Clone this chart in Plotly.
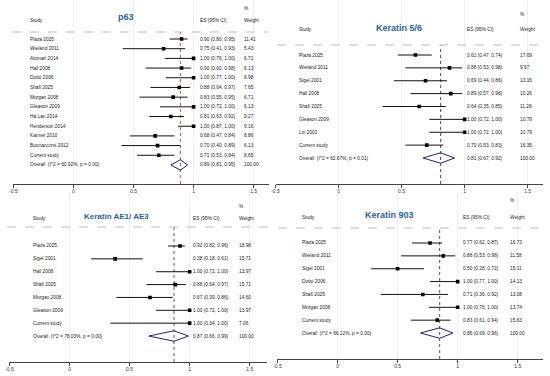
import plotly.graph_objects as go

W, H = 550, 376
FONT = "Liberation Sans, Arial, sans-serif"

# ---------------- data ----------------
p63_studies = ["Plaza 2025", "Wieland 2011", "Alomari 2014", "Hall 2008", "Dotto 2006",
               "Shafi 2025", "Morgan 2008", "Gleason 2009", "Ha Lan 2014", "Henderson 2014",
               "Kanner 2010", "Buonaccorsi 2012", "Current study"]
p63_es = [0.90, 0.75, 1.00, 0.90, 1.00, 0.88, 0.83, 1.00, 0.81, 1.00, 0.68, 0.70, 0.71]
p63_lo = [0.80, 0.41, 0.76, 0.60, 0.77, 0.64, 0.55, 0.72, 0.63, 0.87, 0.47, 0.40, 0.53]
p63_hi = [0.95, 0.93, 1.00, 0.98, 1.00, 0.97, 0.95, 1.00, 0.92, 1.00, 0.84, 0.89, 0.84]
p63_w = [11.41, 5.43, 6.71, 6.13, 6.98, 7.65, 6.71, 6.13, 9.27, 9.16, 8.86, 6.13, 8.65]
p63_overall = [0.89, 0.81, 0.95]
p63_i2, p63_p = "60.92%", "0.00"

k56_studies = ["Plaza 2025", "Wieland 2011", "Sigel 2001", "Hall 2008", "Shafi 2025",
               "Gleason 2009", "Lin 2002", "Current study"]
k56_es = [0.61, 0.88, 0.69, 0.89, 0.64, 1.00, 1.00, 0.70]
k56_lo = [0.47, 0.53, 0.44, 0.57, 0.35, 0.72, 0.72, 0.53]
k56_hi = [0.74, 0.98, 0.86, 0.98, 0.85, 1.00, 1.00, 0.83]
k56_w = [17.69, 9.67, 13.16, 10.26, 11.28, 10.79, 10.79, 16.35]
k56_overall = [0.81, 0.67, 0.92]
k56_i2, k56_p = "62.67%", "0.01"

ae_studies = ["Plaza 2025", "Sigel 2001", "Hall 2008", "Shafi 2025", "Morgan 2008",
              "Gleason 2009", "Current study"]
ae_es = [0.92, 0.38, 1.00, 0.88, 0.67, 1.00, 1.00]
ae_lo = [0.82, 0.18, 0.72, 0.64, 0.39, 0.72, 0.34]
ae_hi = [0.96, 0.61, 1.00, 0.97, 0.86, 1.00, 1.00]
ae_w = [18.98, 15.71, 13.97, 15.71, 14.60, 13.97, 7.06]
ae_overall = [0.87, 0.66, 0.99]
ae_i2, ae_p = "78.03%", "0.00"

k903_studies = ["Plaza 2025", "Wieland 2011", "Sigel 2001", "Dotto 2006", "Shafi 2025",
                "Morgan 2008", "Current study"]
k903_es = [0.77, 0.88, 0.50, 1.00, 0.71, 1.00, 0.83]
k903_lo = [0.62, 0.53, 0.28, 0.77, 0.36, 0.76, 0.61]
k903_hi = [0.87, 0.98, 0.72, 1.00, 0.92, 1.00, 0.94]
k903_w = [16.73, 11.58, 15.11, 14.13, 13.08, 13.74, 15.63]
k903_overall = [0.85, 0.69, 0.96]
k903_i2, k903_p = "66.12%", "0.00"

tick_vals = [-0.5, 0, 0.5, 1, 1.5]
tick_text = ["-0.5", "0", "0.5", "1", "1.5"]

# ---------------- layout geometry (pixels) ----------------
panels = [
    dict(title="p63", studies=p63_studies, es=p63_es, lo=p63_lo, hi=p63_hi, w=p63_w,
         ov=p63_overall, i2=p63_i2, p=p63_p,
         g=dict(xpx0=9.5, scale=121, right=267, top=0, axis=184, row1=39, sp=9.69,
                dash=32, dl=8, dr=266, pct=9, hdr=20, ty=17, tx=123, tsize=9,
                nx=24, ex=195, wx=240, vcol="#d04848")),
    dict(title="Keratin 5/6", studies=k56_studies, es=k56_es, lo=k56_lo, hi=k56_hi, w=k56_w,
         ov=k56_overall, i2=k56_i2, p=k56_p,
         g=dict(xpx0=273.5, scale=127, right=543, top=0, axis=184, row1=55, sp=12.875,
                dash=45, dl=275, dr=546, pct=15, hdr=29, ty=28, tx=398, tsize=9,
                nx=295, ex=464, wx=518, vcol="#444444")),
    dict(title="Keratin AE1/ AE3", studies=ae_studies, es=ae_es, lo=ae_lo, hi=ae_hi, w=ae_w,
         ov=ae_overall, i2=ae_i2, p=ae_p,
         g=dict(xpx0=5.5, scale=121, right=265, top=192, axis=362, row1=246, sp=12.86,
                dash=227, dl=3, dr=266, pct=207, hdr=218, ty=216, tx=113, tsize=8,
                nx=27, ex=188, wx=235, vcol="#555555")),
    dict(title="Keratin 903", studies=k903_studies, es=k903_es, lo=k903_lo, hi=k903_hi, w=k903_w,
         ov=k903_overall, i2=k903_i2, p=k903_p,
         g=dict(xpx0=275.5, scale=121, right=543, top=192, axis=359, row1=243, sp=12.86,
                dash=228, dl=276, dr=545, pct=200, hdr=217, ty=215, tx=388, tsize=9,
                nx=298, ex=460, wx=508, vcol="#555555")),
]

fig = go.Figure()
annotations = []
shapes = []
layout_axes = {}


def py(px):
    return 1 - px / H


def px_(p):
    return p / W


for i, pn in enumerate(panels):
    g = pn["g"]
    sfx = "" if i == 0 else str(i + 1)
    xa, ya = "x" + sfx, "y" + sfx
    xmax = -0.5 + (g["right"] - g["xpx0"]) / g["scale"]
    ybot = -(1 + (g["axis"] - g["row1"]) / g["sp"])
    ytop = -(1 + (g["top"] - g["row1"]) / g["sp"])

    layout_axes["xaxis" + sfx] = dict(
        domain=[px_(g["xpx0"]), px_(g["right"])], range=[-0.5, xmax], anchor=ya,
        showline=True, linecolor="#444444", linewidth=1, ticks="outside", ticklen=3,
        tickcolor="#444444", tickvals=tick_vals, ticktext=tick_text,
        tickfont=dict(size=5, color="#333333", family=FONT), ticklabelstandoff=-1,
        showgrid=True, gridcolor="#f0f0f0", gridwidth=1, zeroline=False, fixedrange=True)
    layout_axes["yaxis" + sfx] = dict(
        domain=[py(g["axis"]), py(g["top"])], range=[ybot, ytop], anchor=xa,
        visible=False, fixedrange=True)

    n = len(pn["studies"])
    # CI lines
    lx, ly = [], []
    for k in range(n):
        lx += [pn["lo"][k], pn["hi"][k], None]
        ly += [-(k + 1), -(k + 1), None]
    fig.add_trace(go.Scatter(x=lx, y=ly, mode="lines", xaxis=xa, yaxis=ya,
                             line=dict(color="#111111", width=1), showlegend=False,
                             hoverinfo="skip"))
    fig.add_trace(go.Scatter(x=pn["es"], y=[-(k + 1) for k in range(n)], mode="markers",
                             xaxis=xa, yaxis=ya, showlegend=False,
                             marker=dict(symbol="square", size=3.6, color="#000000")))
    # overall diamond
    r = n + 1
    hh = 5.2 / g["sp"]
    es, lo, hi = pn["ov"]
    fig.add_trace(go.Scatter(x=[lo, es, hi, es, lo], y=[-r, -r + hh, -r, -r - hh, -r],
                             mode="lines", xaxis=xa, yaxis=ya, showlegend=False,
                             line=dict(color="#1a2580", width=1)))
    # vertical dotted line at overall estimate
    shapes.append(dict(type="line", xref=xa, yref="paper", x0=es, x1=es,
                       y0=py(g["axis"]), y1=py(g["dash"]),
                       line=dict(color=g["vcol"], width=1, dash="dot"), layer="below"))
    # dashed header line
    shapes.append(dict(type="line", xref="paper", yref="paper", x0=px_(g["dl"]),
                       x1=px_(g["dr"]), y0=py(g["dash"]), y1=py(g["dash"]),
                       line=dict(color="#bbbbbb", width=1, dash="dash")))

    tf = dict(size=4.8, color="#222222", family=FONT)
    labels = pn["studies"] + [f"Overall  (I^2 = {pn['i2']}, p = {pn['p']})"]
    ests = [f"{pn['es'][k]:.2f} ({pn['lo'][k]:.2f}, {pn['hi'][k]:.2f})" for k in range(n)]
    ests.append(f"{es:.2f} ({lo:.2f}, {hi:.2f})")
    wts = [f"{v:.2f}" for v in pn["w"]] + ["100.00"]
    for k in range(n + 1):
        for txt, xp in ((labels[k], g["nx"]), (ests[k], g["ex"]), (wts[k], g["wx"])):
            annotations.append(dict(text=txt, xref="paper", yref=ya, x=px_(xp), y=-(k + 1),
                                    xanchor="left", yanchor="middle", showarrow=False,
                                    font=tf))
    for txt, xp, ypx in (("Study", g["nx"], g["hdr"]), ("ES (95% CI)", g["ex"], g["hdr"]),
                         ("%", g["wx"], g["pct"]), ("Weight", g["wx"], g["hdr"])):
        annotations.append(dict(text=txt, xref="paper", yref="paper", x=px_(xp), y=py(ypx),
                                xanchor="left", yanchor="middle", showarrow=False, font=tf))
    annotations.append(dict(text="<b>" + pn["title"] + "</b>", xref="paper", yref="paper",
                            x=px_(g["tx"]), y=py(g["ty"]), xanchor="center", yanchor="middle",
                            showarrow=False,
                            font=dict(size=g["tsize"], color="#2a62a0", family=FONT)))

fig.update_layout(
    width=W, height=H, margin=dict(l=0, r=0, t=0, b=0),
    paper_bgcolor="white", plot_bgcolor="white",
    annotations=annotations, shapes=shapes, showlegend=False,
    **layout_axes)

fig.write_html("out.html", config={"displayModeBar": False},
               post_script="document.body.style.margin='0';"
                           "document.body.style.overflow='hidden';")
